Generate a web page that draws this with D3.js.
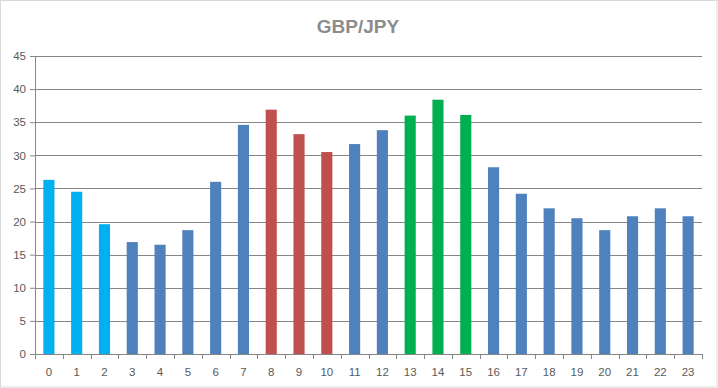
<!DOCTYPE html>
<html>
<head>
<meta charset="utf-8">
<script src="https://cdn.jsdelivr.net/npm/d3@7"></script>
<style>
    body { margin: 0; background: #fff; }
    text { font-family: "Liberation Sans", Arial, sans-serif; }
</style>
</head>
<body>
<div id="chart"></div>
<script>
// hours of the day and the value for each
const hours = d3.range(24).map(String);
const values = [26.3, 24.5, 19.6, 16.9, 16.5, 18.7, 26.0, 34.6, 36.9, 33.2, 30.5, 31.7,
                33.8, 36.0, 38.4, 36.1, 28.2, 24.2, 22.0, 20.5, 18.7, 20.8, 22.0, 20.8];
// colour group per bar: a = asia, d = default, l = london, n = new york overlap
const groups = ["a", "a", "a", "d", "d", "d", "d", "d", "l", "l", "l", "d",
                "d", "n", "n", "n", "d", "d", "d", "d", "d", "d", "d", "d"];
const yTicks = [0, 5, 10, 15, 20, 25, 30, 35, 40, 45];
const title = "GBP/JPY";

const colors = { a: "#00b0f0", d: "#4f81bd", l: "#c0504d", n: "#00b050" };

const W = 718, H = 388;
const margin = { top: 56, right: 16, bottom: 34, left: 35 };
const width = W - margin.left - margin.right;
const height = H - margin.top - margin.bottom;

const svg = d3.select("#chart").append("svg")
    .attr("width", W)
    .attr("height", H);

// outer frame
svg.append("rect")
    .attr("x", 0.5).attr("y", 0.5)
    .attr("width", W - 1.5).attr("height", H - 1.5)
    .attr("fill", "#fff")
    .attr("stroke", "#d9d9d9");

svg.append("text")
    .attr("x", 358).attr("y", 33)
    .attr("text-anchor", "middle")
    .style("font-size", "19px")
    .style("font-weight", "bold")
    .style("fill", "#8c8c8c")
    .text(title);

const g = svg.append("g")
    .attr("transform", `translate(${margin.left},${margin.top})`);

const x = d3.scaleBand()
    .domain(hours)
    .range([0, width])
    .paddingInner(0.6)
    .paddingOuter(0.3);

const y = d3.scaleLinear()
    .domain([0, 45])
    .range([height, 0]);

// gridlines
g.selectAll(".grid")
    .data(yTicks.slice(1))
    .enter().append("line")
    .attr("class", "grid")
    .attr("x1", 0).attr("x2", width)
    .attr("y1", d => Math.round(y(d)) + 0.5)
    .attr("y2", d => Math.round(y(d)) + 0.5)
    .attr("stroke", "#868686")
    .attr("stroke-width", 1);

// bars
g.selectAll(".bar")
    .data(values)
    .enter().append("rect")
    .attr("class", "bar")
    .attr("x", (d, i) => x(hours[i]))
    .attr("width", x.bandwidth())
    .attr("y", d => y(d))
    .attr("height", d => y(0) - y(d))
    .attr("fill", (d, i) => colors[groups[i]]);

// y axis
const yAxis = g.append("g")
    .call(d3.axisLeft(y).tickValues(yTicks).tickSize(5).tickPadding(4));
yAxis.select(".domain").attr("stroke", "#868686").attr("d", `M0.5,${height + 5}V0`);
yAxis.selectAll(".tick line").attr("stroke", "#868686");
yAxis.selectAll("text")
    .style("font-size", "11.5px")
    .style("fill", "#595959");

// x axis with ticks between categories
const step = width / hours.length;
const xAxis = g.append("g")
    .attr("transform", `translate(0,${height})`);
xAxis.append("line")
    .attr("x1", 0).attr("x2", width)
    .attr("y1", 0.5).attr("y2", 0.5)
    .attr("stroke", "#868686");
xAxis.selectAll(".xtick")
    .data(d3.range(1, hours.length + 1))
    .enter().append("line")
    .attr("class", "xtick")
    .attr("x1", d => Math.round(d * step) + 0.5)
    .attr("x2", d => Math.round(d * step) + 0.5)
    .attr("y1", 0).attr("y2", 5)
    .attr("stroke", "#868686");
xAxis.selectAll(".xlabel")
    .data(hours)
    .enter().append("text")
    .attr("class", "xlabel")
    .attr("x", d => x(d) + x.bandwidth() / 2)
    .attr("y", 22)
    .attr("text-anchor", "middle")
    .style("font-size", "11.5px")
    .style("fill", "#595959")
    .text(d => d);
</script>
</body>
</html>
